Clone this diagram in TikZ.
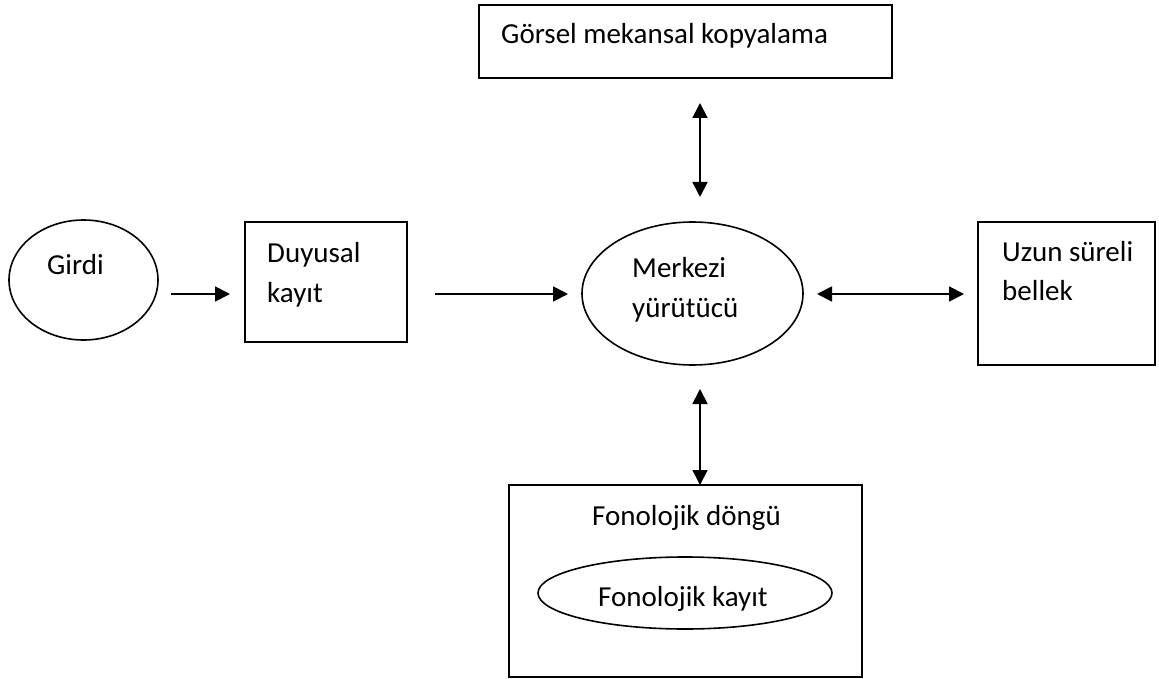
\documentclass[tikz,border=0pt]{standalone}
\usepackage{fontspec}
\setmainfont{Carlito}
\usetikzlibrary{shapes.geometric,arrows.meta}
\tikzset{
  box/.style={draw, line width=1.8pt, rectangle, inner sep=0pt, outer sep=0pt},
  oval/.style={draw, line width=1.6pt, ellipse, inner sep=0pt, outer sep=0pt},
  txt/.style={anchor=base west, inner sep=0pt, font=\fontsize{29}{40}\selectfont},
  arr/.style={line width=1.8pt, -{Triangle[length=15pt,width=15pt]}},
  darr/.style={line width=1.8pt, {Triangle[length=15pt,width=15pt]}-{Triangle[length=15pt,width=15pt]}}
}
\begin{document}
\begin{tikzpicture}[x=1pt,y=-1pt]
\useasboundingbox[fill=white] (0,0) rectangle (1159,679);
% shapes
\node[oval, minimum width=149pt, minimum height=120pt] (girdi) at (83.5,280) {};
\node[box, minimum width=162pt, minimum height=120pt] (duyusal) at (326,282) {};
\node[oval, minimum width=221pt, minimum height=143pt] (merkezi) at (692.5,293.5) {};
\node[box, minimum width=177pt, minimum height=143pt] (uzun) at (1066.5,293.5) {};
\node[box, minimum width=413pt, minimum height=73pt] (gorsel) at (685.5,41.5) {};
\node[box, minimum width=353pt, minimum height=192pt] (fono) at (685.5,581) {};
\node[oval, minimum width=294pt, minimum height=72pt] (fkayit) at (685,593) {};
% texts
\node[txt] (tgirdi) at (47,274) {Girdi};
\node[txt] (tduy1) at (267,262) {Duyusal};
\node[txt] (tduy2) at (267,302) {kayıt};
\node[txt] (tmer1) at (632,277) {Merkezi};
\node[txt] (tmer2) at (632,317) {yürütücü};
\node[txt] (tuzun1) at (1002,261) {Uzun süreli};
\node[txt] (tuzun2) at (1002,300) {bellek};
\node[txt] (tgorsel) at (501,44) {Görsel mekansal kopyalama};
\node[txt] (tfono) at (592,525) {Fonolojik döngü};
\node[txt] (tfkayit) at (598,606) {Fonolojik kayıt};
% connectors
\draw[arr] ([shift={(13,14)}]girdi.east) -- ([shift={(-15,12)}]duyusal.west);
\draw[arr] ([shift={(28,12)}]duyusal.east) -- ([shift={(-14,0.5)}]merkezi.west);
\draw[darr] ([shift={(14,0.5)}]merkezi.east) -- ([shift={(-14,0.5)}]uzun.west);
\draw[darr] ([shift={(14.5,25)}]gorsel.south) -- ([shift={(7.5,-25)}]merkezi.north);
\draw[darr] ([shift={(7.5,24)}]merkezi.south) -- ([shift={(14.5,0)}]fono.north);
\end{tikzpicture}
\end{document}
